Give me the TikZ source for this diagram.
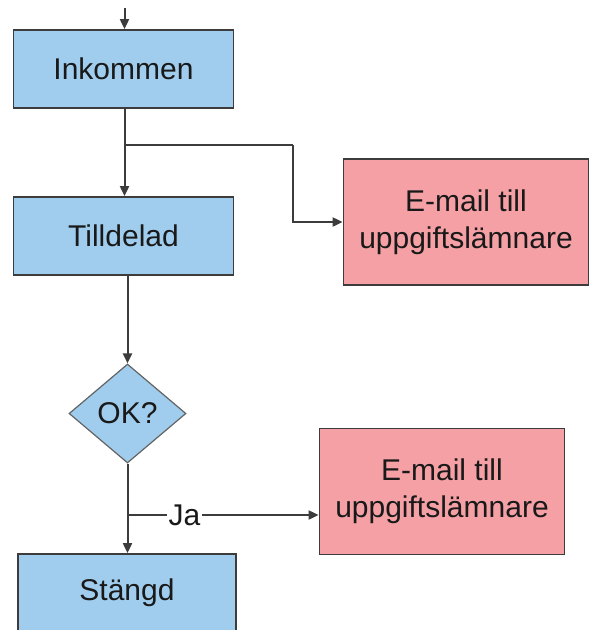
\documentclass[tikz,border=0pt]{standalone}
\usepackage{fontspec}
\setmainfont{Liberation Sans}
\usetikzlibrary{shapes.geometric,arrows.meta}
\definecolor{boxblue}{RGB}{160,205,237}
\definecolor{boxred}{RGB}{244,160,165}
\definecolor{edge}{RGB}{60,60,60}
\begin{document}
\begin{tikzpicture}[x=1pt,y=-1pt,
  every node/.style={font=\fontsize{30}{37}\selectfont, text=black!90},
  bluebox/.style={draw=edge, line width=1.8pt, fill=boxblue, minimum width=220pt, minimum height=78pt, inner sep=0pt},
  redbox/.style={draw=edge, line width=1.8pt, fill=boxred, minimum width=245pt, minimum height=126pt, inner sep=0pt, align=center},
  decision/.style={diamond, draw=edge!80, line width=1.2pt, fill=boxblue, minimum width=117pt, minimum height=99pt, inner sep=0pt},
  conn/.style={draw=edge, line width=2pt},
  arr/.style={conn, -{Triangle[length=10pt,width=9pt]}}
]
\useasboundingbox (0,0) rectangle (592,630);
\clip (0,0) rectangle (592,630);
\node[bluebox] (ink) at (123.5,69) {Inkommen};
\node[bluebox] (til) at (123.5,236) {Tilldelad};
\node[decision] (ok) at (127.5,413.5) {OK?};
\node[bluebox, minimum width=218pt] (stg) at (127,593) {Stängd};
\node[redbox] (mail1) at (466,222) {E-mail till\\uppgiftslämnare};
\node[redbox] (mail2) at (442,491.5) {E-mail till\\uppgiftslämnare};

\coordinate (start) at (124.5,8);
\coordinate (br) at (124.5,145);
\coordinate (knee) at (293,145);
\coordinate (ja) at (127,515);

\draw[arr] (start) -- (start |- ink.north);
\draw[arr] (ink.south -| br) -- (til.north -| br);
\draw[conn] (br) -- (knee);
\draw[arr] (knee) |- (mail1.west);
\draw[arr] (til.south -| ok.north) -- (ok.north);
\draw[arr] (ok.south) -- (stg.north -| ok.south);
\draw[arr] (ja) -- node[pos=0.3, fill=white, inner sep=2pt] (jal) {Ja} (ja -| mail2.west);
\end{tikzpicture}
\end{document}
